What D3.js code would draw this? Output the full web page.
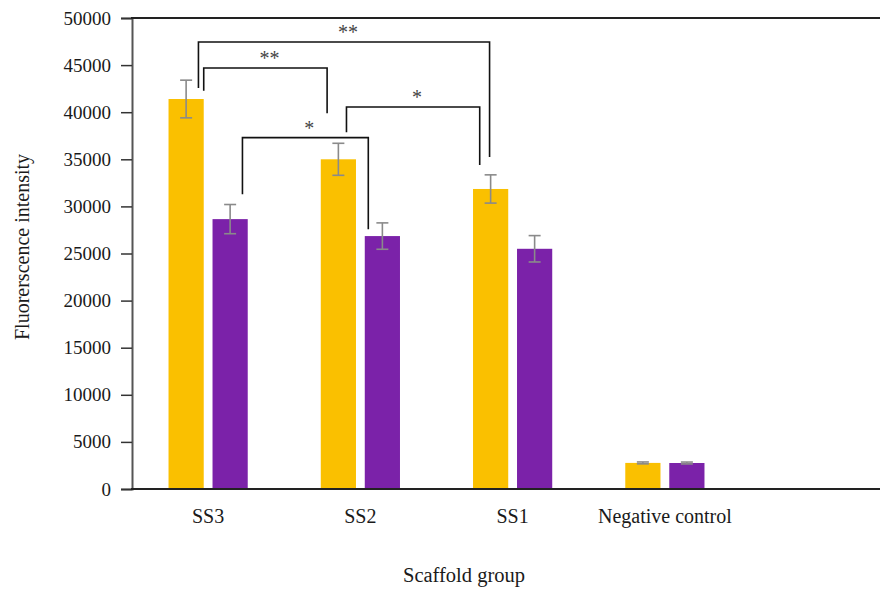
<!DOCTYPE html>
<html>
<head>
<meta charset="utf-8">
<script src="https://cdn.jsdelivr.net/npm/d3@7.9.0/dist/d3.min.js"></script>
<style>
  body { margin: 0; background: #fff; }
  svg { display: block; font-family: "Liberation Serif", "Times New Roman", serif; }
</style>
</head>
<body>
<svg width="884" height="589"></svg>
<script>
// data
const groups = ["SS3", "SS2", "SS1", "Negative control"];
const seriesA = [41400, 35000, 31850, 2770];
const seriesB = [28650, 26850, 25500, 2760];
const errorsA = [2000, 1700, 1500, 100];
const errorsB = [1550, 1400, 1400, 100];
const yTicks = [0, 5000, 10000, 15000, 20000, 25000, 30000, 35000, 40000, 45000, 50000];

// significance brackets: [group, series, fraction across bar] at each end, levels in data units
const brackets = [
  { label: "**", from: ["SS3", 0, 0.85], to: ["SS1", 0, 0.47], level: 47450, fromEnd: 42570, toEnd: 35250 },
  { label: "**", from: ["SS3", 0, 1.0], to: ["SS2", 0, 0.18], level: 44700, fromEnd: 42280, toEnd: 39900 },
  { label: "*", from: ["SS3", 1, 0.85], to: ["SS2", 1, 0.1], level: 37300, fromEnd: 31300, toEnd: 27570 },
  { label: "*", from: ["SS2", 0, 0.73], to: ["SS1", 0, 0.19], level: 40550, fromEnd: 37870, toEnd: 34400 }
];

const colors = ["#FAC000", "#7B22A9"];

const svg = d3.select("svg");
const mLeft = 132, mRight = 880, mTop = 18, mBottom = 489;

const x0 = d3.scaleBand().domain(groups).range([mLeft, 741]);
const x1 = d3.scaleBand().domain([0, 1]).range([0, x0.bandwidth()])
  .paddingInner(0.2).paddingOuter(0.83);
const y = d3.scaleLinear().domain([0, 50000]).range([mBottom, mTop]);

const rows = groups.map((g, i) => ({
  group: g,
  vals: [
    { s: 0, v: seriesA[i], e: errorsA[i] },
    { s: 1, v: seriesB[i], e: errorsB[i] }
  ]
}));

// bars
const gBars = svg.append("g");
rows.forEach(r => {
  r.vals.forEach(d => {
    gBars.append("rect")
      .attr("x", x0(r.group) + x1(d.s))
      .attr("y", y(d.v))
      .attr("width", x1.bandwidth())
      .attr("height", y(0) - y(d.v))
      .attr("fill", colors[d.s]);
  });
});

// error bars
const gErr = svg.append("g").attr("stroke", "#8a8a8a").attr("stroke-width", 1.6);
rows.forEach(r => {
  r.vals.forEach(d => {
    const cx = x0(r.group) + x1(d.s) + x1.bandwidth() / 2;
    gErr.append("line").attr("x1", cx).attr("x2", cx).attr("y1", y(d.v + d.e)).attr("y2", y(d.v - d.e));
    gErr.append("line").attr("x1", cx - 6).attr("x2", cx + 6).attr("y1", y(d.v + d.e)).attr("y2", y(d.v + d.e));
    gErr.append("line").attr("x1", cx - 6).attr("x2", cx + 6).attr("y1", y(d.v - d.e)).attr("y2", y(d.v - d.e));
  });
});

// y axis
const yAxis = d3.axisLeft(y).tickValues(yTicks).tickSize(11).tickPadding(10).tickFormat(d3.format("d"));
const gy = svg.append("g").attr("transform", `translate(${mLeft},0)`).call(yAxis);
gy.select(".domain").attr("stroke", "#555").attr("stroke-width", 2);
gy.selectAll(".tick line").attr("stroke", "#333").attr("stroke-width", 1.5);
gy.selectAll(".tick text").attr("font-size", 19).attr("fill", "#1a1a1a")
  .attr("font-family", "Liberation Serif, serif");

// x axis line and top frame
svg.append("line").attr("x1", mLeft - 1).attr("x2", mRight).attr("y1", mBottom).attr("y2", mBottom)
  .attr("stroke", "#222").attr("stroke-width", 2);
svg.append("line").attr("x1", mLeft - 1).attr("x2", mRight).attr("y1", mTop).attr("y2", mTop)
  .attr("stroke", "#222").attr("stroke-width", 2);

// category labels
svg.append("g").selectAll("text").data(groups).join("text")
  .attr("x", d => x0(d) + x0.bandwidth() / 2)
  .attr("y", 523)
  .attr("text-anchor", "middle")
  .attr("font-size", 20)
  .attr("fill", "#1a1a1a")
  .text(d => d);

// brackets
const bx = ([g, s, f]) => x0(g) + x1(s) + f * x1.bandwidth();
const gBr = svg.append("g");
brackets.forEach(b => {
  const xa = bx(b.from), xb = bx(b.to);
  gBr.append("path")
    .attr("d", `M${xa},${y(b.fromEnd)}V${y(b.level)}H${xb}V${y(b.toEnd)}`)
    .attr("fill", "none").attr("stroke", "#111").attr("stroke-width", 1.6);
  gBr.append("text")
    .attr("x", (xa + xb) / 2 + 4)
    .attr("y", y(b.level) - 3)
    .attr("text-anchor", "middle")
    .attr("font-size", 20)
    .attr("fill", "#444")
    .text(b.label);
});

// axis titles
svg.append("text")
  .attr("transform", "translate(29,247) rotate(-90)")
  .attr("text-anchor", "middle")
  .attr("font-size", 20)
  .attr("fill", "#1a1a1a")
  .text("Fluorerscence intensity");

svg.append("text")
  .attr("x", 464)
  .attr("y", 582)
  .attr("text-anchor", "middle")
  .attr("font-size", 20.5)
  .attr("fill", "#1a1a1a")
  .text("Scaffold group");
</script>
</body>
</html>
